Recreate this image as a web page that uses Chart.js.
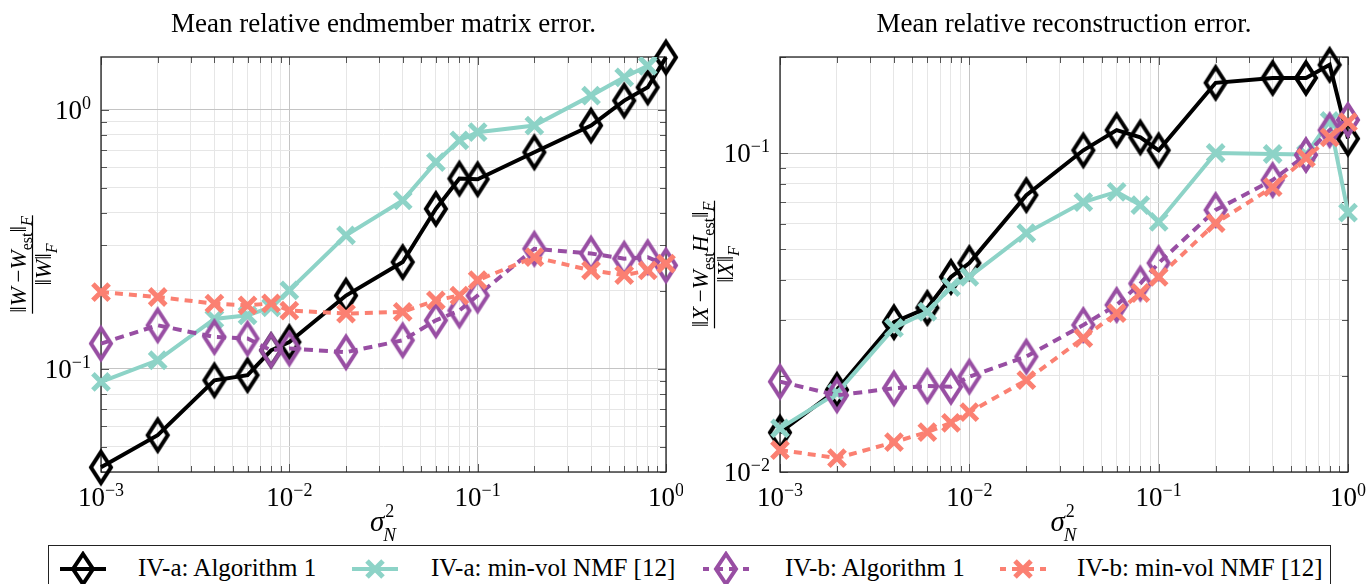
<!DOCTYPE html>
<html>
<head>
<meta charset="utf-8">
<script src="https://cdn.jsdelivr.net/npm/chart.js@4.4.1/dist/chart.umd.min.js"></script>
<style>
    body { margin: 0; width: 1366px; height: 584px; overflow: hidden; background: #fff; font-family: "Liberation Serif", "Times New Roman", serif; }
    .plot { position: absolute; top: 0; width: 683px; height: 584px; }
    #legend { position: absolute; left: 48px; top: 545px; width: 1283px; height: 50px; border: 1px solid #222; box-sizing: border-box; background: #fff; }
    .lg-icon { position: absolute; top: 5px; }
    .lg-text { position: absolute; top: 9px; font-size: 25px; line-height: 25px; white-space: nowrap; color: #000; }
</style>
</head>
<body>
<div class="plot" style="left:0"><canvas id="chartW" width="683" height="584"></canvas></div>
<div class="plot" style="left:683px"><canvas id="chartX" width="683" height="584"></canvas></div>
<div id="legend"></div>

<script>
// Data (noise variance sigma_N^2 on x)
const noiseLevels = [0.001, 0.002, 0.004, 0.006, 0.008, 0.01, 0.02, 0.04, 0.06, 0.08, 0.1, 0.2, 0.4, 0.6, 0.8, 1];

// Mean relative endmember matrix error
const endAlgA    = [0.0417, 0.0555, 0.0904, 0.0946, 0.118, 0.127, 0.192, 0.2585, 0.415, 0.543, 0.54, 0.686, 0.870, 1.086, 1.222, 1.595];
const endMinvolA = [0.0891, 0.108, 0.156, 0.161, 0.173, 0.201, 0.328, 0.447, 0.628, 0.762, 0.820, 0.870, 1.135, 1.336, 1.48, 1.8];
const endAlgB    = [0.1253, 0.1474, 0.1328, 0.131, 0.118, 0.12, 0.116, 0.129, 0.154, 0.168, 0.192, 0.291, 0.279, 0.2665, 0.270, 0.251];
const endMinvolB = [0.198, 0.1895, 0.1786, 0.176, 0.179, 0.168, 0.1636, 0.166, 0.184, 0.192, 0.220, 0.270, 0.240, 0.23, 0.240, 0.255];

// Mean relative reconstruction error
const recAlgA    = [0.0133, 0.0181, 0.0295, 0.0327, 0.0409, 0.0452, 0.0738, 0.102, 0.118, 0.112, 0.102, 0.166, 0.172, 0.172, 0.189, 0.111];
const recMinvolA = [0.0137, 0.0177, 0.0283, 0.0318, 0.038, 0.0409, 0.0561, 0.0702, 0.0755, 0.0687, 0.0608, 0.1, 0.0993, 0.099, 0.126, 0.065];
const recAlgB    = [0.0192, 0.0174, 0.0183, 0.0186, 0.0185, 0.0199, 0.0230, 0.0289, 0.0334, 0.039, 0.0452, 0.0663, 0.0823, 0.0986, 0.118, 0.127];
const recMinvolB = [0.01172, 0.01106, 0.0124, 0.01334, 0.01426, 0.0154, 0.0194, 0.0263, 0.0315, 0.0364, 0.0409, 0.0603, 0.0782, 0.0965, 0.112, 0.125];

// Series labels and colours
const seriesLabels = ['IV-a: Algorithm 1', 'IV-a: min-vol NMF [12]', 'IV-b: Algorithm 1', 'IV-b: min-vol NMF [12]'];
const seriesColors = ['#000000', '#8dd3c7', '#984ea3', '#fb8072'];

// Tick labels (decades)
const xTickValues = [0.001, 0.01, 0.1, 1];
const xTickExps = ['\u22123', '\u22122', '\u22121', '0'];
const endTickValues = [0.1, 1];
const endTickExps = ['\u22121', '0'];
const recTickValues = [0.01, 0.1];
const recTickExps = ['\u22122', '\u22121'];

const titles = ['Mean relative endmember matrix error.', 'Mean relative reconstruction error.'];

const SERIF = '"Liberation Serif", "Times New Roman", serif';

function isDecade(v) {
    const l = Math.log10(v);
    return Math.abs(l - Math.round(l)) < 1e-6;
}

// all 1..9 x 10^k values inside [min, max]
function logGrid(min, max) {
    const out = [];
    for (let e = Math.floor(Math.log10(min)); e <= Math.ceil(Math.log10(max)); e++) {
        for (let m = 1; m <= 9; m++) {
            const v = m * Math.pow(10, e);
            if (v >= min * 0.9999 && v <= max * 1.0001) out.push(v);
        }
    }
    return out;
}

// hollow tall diamond used as point style
function diamondMarker(color) {
    const c = document.createElement('canvas');
    c.width = 32; c.height = 44;
    const g = c.getContext('2d');
    g.strokeStyle = color;
    g.lineWidth = 4;
    g.beginPath();
    g.moveTo(16, 6.5);
    g.lineTo(26, 22);
    g.lineTo(16, 37.5);
    g.lineTo(6, 22);
    g.closePath();
    g.stroke();
    return c;
}

function makeDatasets(series, clipLast) {
    const styles = [
        { dash: [], marker: 'diamond' },
        { dash: [], marker: 'cross' },
        { dash: [9, 6], marker: 'diamond' },
        { dash: [8, 6], marker: 'cross' }
    ];
    return series.map((vals, i) => {
        const color = seriesColors[i];
        const st = styles[i];
        return {
            label: seriesLabels[i],
            data: noiseLevels.map((x, k) => ({ x: x, y: vals[k] })),
            borderColor: color,
            borderWidth: 4,
            borderDash: st.dash,
            pointBorderColor: color,
            pointBackgroundColor: 'rgba(0,0,0,0)',
            pointRadius: st.marker === 'cross' ? 11.5 : 13,
            pointBorderWidth: st.marker === 'cross' ? 5 : 4,
            pointStyle: st.marker === 'cross' ? 'crossRot' : diamondMarker(color),
            tension: 0,
            order: 3 - i,
            // markers may overhang the frame; only a value above the axis gets cut
            clip: clipLast && clipLast[i] ? { left: 30, top: 0, right: 30, bottom: 30 } : false
        };
    });
}

// draw a sequence of text runs (italic / subscript) centred at cx
function drawRuns(ctx, runs, cx, baseline, size) {
    const sub = Math.round(size * 0.7);
    const fontOf = r => (r.it ? 'italic ' : '') + (r.sub ? sub : size) + 'px ' + SERIF;
    let total = 0;
    runs.forEach(r => { ctx.font = fontOf(r); r.w = ctx.measureText(r.t).width; total += r.w; });
    let x = cx - total / 2;
    ctx.textAlign = 'left';
    ctx.textBaseline = 'alphabetic';
    runs.forEach(r => {
        ctx.font = fontOf(r);
        ctx.fillText(r.t, x, baseline + (r.sub ? size * 0.28 : 0));
        x += r.w;
    });
    return total;
}

function drawPow(ctx, exp, x, y, align) {
    ctx.textBaseline = 'alphabetic';
    ctx.textAlign = 'left';
    ctx.font = '27px ' + SERIF;
    const w10 = ctx.measureText('10').width;
    ctx.font = '18px ' + SERIF;
    const we = ctx.measureText(exp).width;
    const start = align === 'center' ? x - (w10 + we) / 2 : x - (w10 + we);
    ctx.font = '27px ' + SERIF;
    ctx.fillText('10', start, y);
    ctx.font = '18px ' + SERIF;
    ctx.fillText(exp, start + w10, y - 10);
}

const decor = {
    id: 'decor',
    beforeDatasetsDraw(chart, args, o) {
        const ctx = chart.ctx;
        const a = chart.chartArea;
        const sx = chart.scales.x, sy = chart.scales.y;
        ctx.save();
        ctx.strokeStyle = '#555';
        ctx.lineWidth = 1;
        ctx.beginPath();
        sx.ticks.forEach(t => {
            const px = Math.round(sx.getPixelForValue(t.value)) + 0.5;
            const len = isDecade(t.value) ? 8 : 6;
            ctx.moveTo(px, a.bottom); ctx.lineTo(px, a.bottom - len);
            ctx.moveTo(px, a.top); ctx.lineTo(px, a.top + len);
        });
        sy.ticks.forEach(t => {
            const py = Math.round(sy.getPixelForValue(t.value)) + 0.5;
            const len = isDecade(t.value) ? 8 : 6;
            ctx.moveTo(a.left, py); ctx.lineTo(a.left + len, py);
            ctx.moveTo(a.right, py); ctx.lineTo(a.right - len, py);
        });
        ctx.stroke();
        ctx.strokeStyle = '#222';
        ctx.lineWidth = 1.3;
        ctx.strokeRect(a.left, a.top, a.right - a.left, a.bottom - a.top);
        ctx.restore();
    },
    afterDraw(chart, args, o) {
        const ctx = chart.ctx;
        const a = chart.chartArea;
        const cx = (a.left + a.right) / 2;
        ctx.save();
        ctx.fillStyle = '#000';

        // title
        ctx.font = '27px ' + SERIF;
        ctx.textAlign = 'center';
        ctx.textBaseline = 'alphabetic';
        ctx.fillText(o.title, cx, 32);

        // tick labels
        xTickValues.forEach((v, i) => drawPow(ctx, xTickExps[i], chart.scales.x.getPixelForValue(v), 506, 'center'));
        o.yTicks.forEach((v, i) => drawPow(ctx, o.yExps[i], a.left - 10, chart.scales.y.getPixelForValue(v) + 9, 'right'));

        // x label: sigma_N^2
        ctx.textAlign = 'left';
        ctx.font = 'italic 29px ' + SERIF;
        const ws = ctx.measureText('\u03c3').width;
        ctx.font = '18px ' + SERIF;
        const w2 = ctx.measureText('2').width;
        ctx.font = 'italic 19px ' + SERIF;
        const wn = ctx.measureText('N').width;
        const sx0 = cx - (ws + Math.max(w2, wn)) / 2;
        ctx.font = 'italic 29px ' + SERIF;
        ctx.fillText('\u03c3', sx0, 531);
        ctx.font = '18px ' + SERIF;
        ctx.fillText('2', sx0 + ws + 1, 517);
        ctx.font = 'italic 19px ' + SERIF;
        ctx.fillText('N', sx0 + ws - 1, 541);

        // y label: fraction, rotated
        ctx.translate(o.fracX, (a.top + a.bottom) / 2);
        ctx.rotate(-Math.PI / 2);
        const wNum = drawRuns(ctx, o.num, 0, -6, 23);
        const wDen = drawRuns(ctx, o.den, 0, 19, 23);
        const half = Math.max(wNum, wDen) / 2 + 1;
        ctx.strokeStyle = '#000';
        ctx.lineWidth = 1.2;
        ctx.beginPath();
        ctx.moveTo(-half, 0.5);
        ctx.lineTo(half, 0.5);
        ctx.stroke();
        ctx.restore();
    }
};

function gridColor(c) {
    return c.tick && isDecade(c.tick.value) ? '#c4c4c4' : '#e6e6e6';
}

function makeChart(id, series, yMin, yMax, yWidth, padRight, decorOpts, clipLast) {
    const ctx = document.getElementById(id).getContext('2d');
    return new Chart(ctx, {
        type: 'line',
        data: { datasets: makeDatasets(series, clipLast) },
        options: {
            responsive: false,
            animation: false,
            layout: { padding: { left: 0, top: 57, right: padRight, bottom: 72 } },
            plugins: {
                legend: { display: false },
                tooltip: { enabled: false },
                decor: decorOpts
            },
            scales: {
                x: {
                    type: 'logarithmic',
                    bounds: 'data',
                    min: 0.001,
                    max: 1,
                    ticks: { display: false },
                    grid: { color: gridColor, lineWidth: 1, drawTicks: false },
                    border: { display: false },
                    afterBuildTicks: s => { s.ticks = logGrid(0.001, 1).map(v => ({ value: v })); },
                    afterFit: s => { s.height = 40; }
                },
                y: {
                    type: 'logarithmic',
                    bounds: 'data',
                    min: yMin,
                    max: yMax,
                    ticks: { display: false },
                    grid: { color: gridColor, lineWidth: 1, drawTicks: false },
                    border: { display: false },
                    afterBuildTicks: s => { s.ticks = logGrid(yMin, yMax).map(v => ({ value: v })); },
                    afterFit: s => { s.width = yWidth; }
                }
            }
        },
        plugins: [decor]
    });
}

makeChart('chartW', [endAlgA, endMinvolA, endAlgB, endMinvolB], 0.04, 1.6, 101, 15, {
    title: titles[0],
    yTicks: endTickValues,
    yExps: endTickExps,
    fracX: 32,
    num: [{ t: '\u2016' }, { t: 'W', it: 1 }, { t: '\u2009\u2212' }, { t: 'W', it: 1 }, { t: 'est', sub: 1 }, { t: '\u2016' }, { t: 'F', it: 1, sub: 1 }],
    den: [{ t: '\u2016' }, { t: 'W', it: 1 }, { t: '\u2016' }, { t: 'F', it: 1, sub: 1 }]
}, [false, true, false, false]);

makeChart('chartX', [recAlgA, recMinvolA, recAlgB, recMinvolB], 0.01, 0.2, 97, 18, {
    title: titles[1],
    yTicks: recTickValues,
    yExps: recTickExps,
    fracX: 31,
    num: [{ t: '\u2016' }, { t: 'X', it: 1 }, { t: '\u2009\u2212' }, { t: 'W', it: 1 }, { t: 'est', sub: 1 }, { t: 'H', it: 1 }, { t: 'est', sub: 1 }, { t: '\u2016' }, { t: 'F', it: 1, sub: 1 }],
    den: [{ t: '\u2016' }, { t: 'X', it: 1 }, { t: '\u2016' }, { t: 'F', it: 1, sub: 1 }]
}, null);

// Legend (shared, below both plots)
function legendIcon(i) {
    const c = seriesColors[i];
    const dashed = i >= 2 ? ' stroke-dasharray="8 6" stroke-dashoffset="2"' : '';
    let marker;
    if (i % 2 === 0) {
        marker = `<polygon points="30,3 40,18 30,33 20,18" fill="none" stroke="${c}" stroke-width="4"/>`;
    } else {
        marker = `<path d="M22,10 L38,26 M38,10 L22,26" stroke="${c}" stroke-width="5"/>`;
    }
    return `<svg width="60" height="36" viewBox="0 0 60 36"><line x1="7" y1="18" x2="53" y2="18" stroke="${c}" stroke-width="4"${dashed}/>${marker}</svg>`;
}

const legendEl = document.getElementById('legend');
const iconCenters = [83, 375, 726, 1023];
const textLefts = [138, 431, 785, 1077];
seriesLabels.forEach((label, i) => {
    const icon = document.createElement('div');
    icon.className = 'lg-icon';
    icon.style.left = (iconCenters[i] - 49 - 30) + 'px';
    icon.innerHTML = legendIcon(i);
    legendEl.appendChild(icon);
    const txt = document.createElement('div');
    txt.className = 'lg-text';
    txt.style.left = (textLefts[i] - 49) + 'px';
    txt.textContent = label;
    legendEl.appendChild(txt);
});
</script>
</body>
</html>
